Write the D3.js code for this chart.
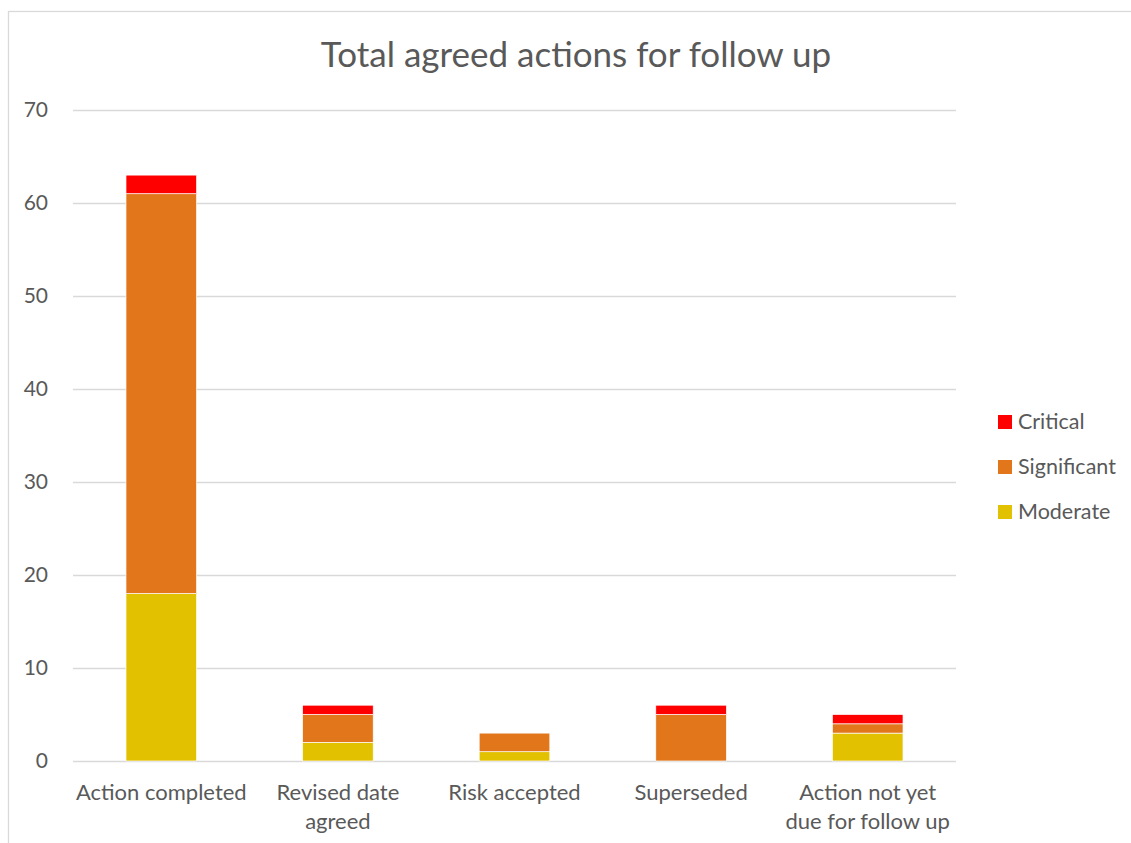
<!DOCTYPE html>
<html>
<head>
<meta charset="utf-8">
<script src="https://cdn.jsdelivr.net/npm/d3@7"></script>
<style>
  body { margin: 0; background: #fff; }
  svg text { font-family: Lato, "Open Sans", sans-serif; fill: #595959; }
  .grid line { stroke: #d9d9d9; stroke-width: 1.3; }
  .grid path { display: none; }
  .y.axis path, .y.axis line { display: none; }
  .x.axis path, .x.axis line { display: none; }
</style>
</head>
<body>
<div class="chart"></div>
<script>
// data
const categories = ['Action completed', 'Revised date\nagreed', 'Risk accepted', 'Superseded', 'Action not yet\ndue for follow up']
const moderate    = [18, 2, 1, 0, 3]
const significant = [43, 3, 2, 5, 1]
const critical    = [2, 1, 0, 1, 1]
const seriesNames = ['Moderate', 'Significant', 'Critical']
const seriesColors = ['#e1c100', '#e2761a', '#ff0000']
const yTicks = [0, 10, 20, 30, 40, 50, 60, 70]

const rows = categories.map((c, i) => ({cat: c, Moderate: moderate[i], Significant: significant[i], Critical: critical[i]}))
const stacked = d3.stack().keys(seriesNames)(rows)

const width = 1131, height = 843
const margin = {top: 110, bottom: 82, left: 73, right: 175}
const chart_w = width - margin.left - margin.right
const chart_h = height - margin.top - margin.bottom

const svg = d3.select('.chart').append('svg').attr('width', width).attr('height', height)

// chart border
svg.append('rect').attr('x', 8.5).attr('y', 11.5).attr('width', 1140).attr('height', 850)
   .attr('fill', 'none').attr('stroke', '#d9d9d9').attr('stroke-width', 1.3)

svg.append('text').attr('x', 576).attr('y', 67).attr('text-anchor', 'middle')
   .style('font-size', '35px').text('Total agreed actions for follow up')

const g = svg.append('g').attr('transform', `translate(${margin.left},${margin.top})`)

const xScale = d3.scaleBand().domain(categories).range([0, chart_w]).paddingInner(0.6).paddingOuter(0.3)
const yScale = d3.scaleLinear().domain([0, 70]).range([chart_h, 0])

// grid
g.append('g').attr('class', 'grid')
 .call(d3.axisLeft(yScale).tickValues(yTicks).tickSize(-chart_w).tickFormat(''))

const yAxis = g.append('g').attr('class', 'y axis')
 .call(d3.axisLeft(yScale).tickValues(yTicks).tickSize(0).tickPadding(25))
yAxis.selectAll('text').style('font-size', '21px')

// bars
g.selectAll('.series').data(stacked).enter().append('g')
 .attr('class', 'series').attr('fill', (d, i) => seriesColors[i])
 .selectAll('rect').data(d => d).enter().append('rect')
   .attr('x', d => xScale(d.data.cat))
   .attr('y', d => yScale(d[1]))
   .attr('width', xScale.bandwidth())
   .attr('height', d => yScale(d[0]) - yScale(d[1]))
   .attr('stroke', '#fff').attr('stroke-width', 0.7)

// x labels
const xAxis = g.append('g').attr('class', 'x axis').attr('transform', `translate(0,${chart_h})`)
 .call(d3.axisBottom(xScale).tickSize(0).tickFormat(''))
xAxis.selectAll('.tick').each(function(d) {
  const t = d3.select(this).append('text').attr('text-anchor', 'middle').style('font-size', '22px')
  d.split('\n').forEach((line, i) => {
    t.append('tspan').attr('x', 0).attr('y', 39 + i * 29).text(line)
  })
})

// legend
const legend = svg.append('g').attr('transform', 'translate(998,415)')
const legendItems = seriesNames.slice().reverse()
legendItems.forEach((name, i) => {
  const row = legend.append('g').attr('transform', `translate(0,${i * 45})`)
  row.append('rect').attr('width', 14).attr('height', 14)
     .attr('fill', seriesColors[seriesNames.indexOf(name)])
  row.append('text').attr('x', 20).attr('y', 14).style('font-size', '21.5px').text(name)
})
</script>
</body>
</html>
